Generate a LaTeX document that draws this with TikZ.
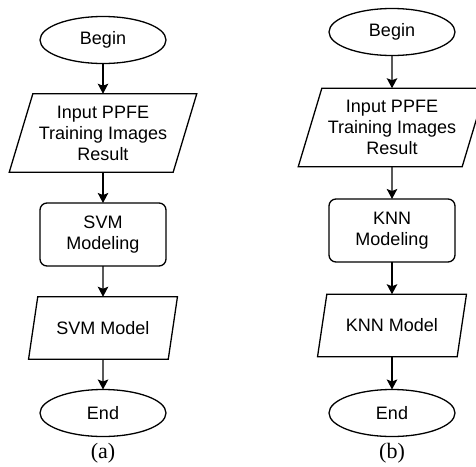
\documentclass[tikz,border=0pt]{standalone}
\usepackage{fontspec}
\setmainfont{Liberation Sans}
\newfontfamily\capfont{Liberation Serif}
\usetikzlibrary{positioning, shapes.geometric, arrows.meta}

\begin{document}
\begin{tikzpicture}[x=1pt, y=-1pt, line width=1.3pt,
  every node/.style={align=center, font=\fontsize{18}{21}\selectfont, inner sep=0pt, outer sep=0pt},
  term/.style={draw, ellipse, minimum width=126pt, minimum height=47pt},
  iobig/.style={draw, trapezium, trapezium stretches=true, trapezium left angle=68.4, trapezium right angle=111.6, minimum width=188pt, minimum height=78.5pt},
  iosmall/.style={draw, trapezium, trapezium stretches=true, trapezium left angle=63.6, trapezium right angle=116.4, minimum width=149pt, minimum height=62.5pt},
  procbox/.style={draw, rounded corners=7pt, minimum width=126pt, minimum height=63pt},
  caption/.style={font=\capfont\fontsize{22}{24}\selectfont},
  flow/.style={-{Stealth[length=10pt, width=10.5pt, inset=2pt]}}]
\useasboundingbox (0,0) rectangle (476,466);

% (a) SVM
\node (beginA) [term] at (103,40) {Begin};
\node (inA) [iobig] at (103,133) {Input PPFE\\Training Images\\Result};
\node (svm) [procbox] at (103,234.5) {SVM\\Modeling};
\node (svmOut) [iosmall] at (103,328) {SVM Model};
\node (endA) [term] at (103,413) {End};
\node (capA) [caption] at (103,453) {(a)};
\draw[flow] (beginA) -- (inA);
\draw[flow] (inA) -- (svm);
\draw[flow] (svm) -- (svmOut);
\draw[flow] (svmOut) -- (endA);

% (b) KNN
\node (beginB) [term] at (392,32) {Begin};
\node (inB) [iobig] at (392,127.5) {Input PPFE\\Training Images\\Result};
\node (knn) [procbox] at (392,230.5) {KNN\\Modeling};
\node (knnOut) [iosmall] at (392,325.5) {KNN Model};
\node (endB) [term] at (392,413) {End};
\node (capB) [caption] at (392,453) {(b)};
\draw[flow] (beginB) -- (inB);
\draw[flow] (inB) -- (knn);
\draw[flow] (knn) -- (knnOut);
\draw[flow] (knnOut) -- (endB);
\end{tikzpicture}
\end{document}
